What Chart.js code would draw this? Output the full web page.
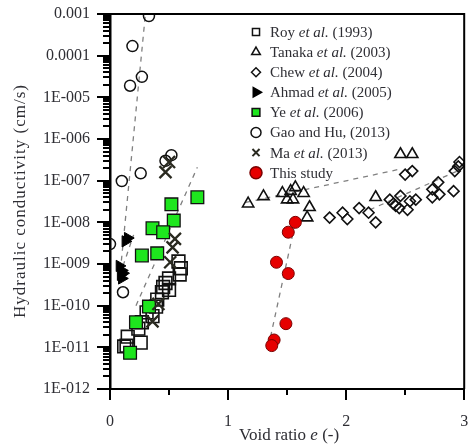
<!DOCTYPE html>
<html lang="en">
<head>
<meta charset="UTF-8" />
<title>Hydraulic conductivity vs void ratio</title>
<script src="https://cdn.jsdelivr.net/npm/chart.js"></script>
<style>
  html, body { margin: 0; padding: 0; background: #fff; }
  #wrap { width: 475px; height: 448px; }
</style>
</head>
<body>
<div id="wrap"><canvas id="kChart" width="475" height="448"></canvas></div>
<script>
// void ratio e (-) and hydraulic conductivity k (cm/s)
const royE = [0.58, 0.60, 0.59, 0.50, 0.47, 0.45, 0.44, 0.50, 0.40, 0.39, 0.36, 0.31, 0.27, 0.24, 0.15, 0.12, 0.26, 0.14];
const royK = [1.15e-9, 7.9e-10, 5.6e-10, 4.5e-10, 3.5e-10, 2.8e-10, 2.1e-10, 2.4e-10, 1.4e-10, 9.5e-11, 5.6e-11, 6.9e-11, 4.0e-11, 2.8e-11, 1.8e-11, 1.05e-11, 1.3e-11, 1.1e-11];

const tanakaE = [1.17, 1.30, 1.46, 1.50, 1.53, 1.55, 1.57, 1.64, 1.69, 1.67, 2.25, 2.46, 2.56];
const tanakaK = [2.8e-8, 4.2e-8, 5.0e-8, 3.5e-8, 5.6e-8, 3.5e-8, 6.9e-8, 5.0e-8, 2.3e-8, 1.3e-8, 4.0e-8, 4.3e-7, 4.3e-7];

const chewE = [1.86, 1.97, 2.01, 2.11, 2.19, 2.25, 2.37, 2.40, 2.42, 2.45, 2.46, 2.52, 2.54, 2.59, 2.50, 2.56, 2.73, 2.78, 2.73, 2.79, 2.91, 2.92, 2.96, 2.95];
const chewK = [1.3e-8, 1.7e-8, 1.2e-8, 2.2e-8, 1.7e-8, 1.0e-8, 3.5e-8, 2.8e-8, 2.5e-8, 2.2e-8, 4.3e-8, 2.0e-8, 3.2e-8, 3.5e-8, 1.4e-7, 1.7e-7, 6.2e-8, 9.1e-8, 4.0e-8, 4.7e-8, 5.6e-8, 1.7e-7, 2.8e-7, 2.2e-7];

const ahmadE = [0.15, 0.13, 0.08, 0.10, 0.09, 0.10, 0.11];
const ahmadK = [4.2e-9, 3.5e-9, 9e-10, 7e-10, 5.5e-10, 4.5e-10, 6e-10];

const yeE = [0.74, 0.52, 0.54, 0.36, 0.45, 0.27, 0.40, 0.33, 0.22, 0.17];
const yeK = [4.0e-8, 2.7e-8, 1.1e-8, 7.2e-9, 5.8e-9, 1.6e-9, 1.8e-9, 9.5e-11, 4.0e-11, 7.4e-12];

const gaoE = [0.33, 0.19, 0.27, 0.17, 0.26, 0.10, 0.47, 0.52, 0.0, 0.11];
const gaoK = [8.9e-4, 1.7e-4, 3.1e-5, 1.9e-5, 1.5e-7, 9.8e-8, 3.0e-7, 4.1e-7, 3.0e-9, 2.1e-10];

const maE = [0.47, 0.50, 0.55, 0.53, 0.51, 0.41, 0.36];
const maK = [1.6e-7, 2.8e-7, 4.0e-9, 2.5e-9, 1.1e-9, 1.1e-10, 4.2e-11];

const studyE = [1.57, 1.51, 1.41, 1.51, 1.49, 1.39, 1.37];
const studyK = [1.0e-8, 5.8e-9, 1.1e-9, 5.9e-10, 3.7e-11, 1.5e-11, 1.1e-11];

// dashed trend lines (end points)
const gaoFitE = [0.08, 0.30];     const gaoFitK = [4e-10, 1e-3];
const ahmadFitE = [0.11, 0.20];   const ahmadFitK = [9e-10, 5e-9];
const yeFitE = [0.22, 0.74];      const yeFitK = [1e-10, 2.1e-7];
const tanakaFitE = [1.15, 2.46];  const tanakaFitK = [3.0e-8, 1.9e-7];
const chewFitE = [2.2, 2.98];     const chewFitK = [2.0e-8, 1.9e-7];
const studyFitE = [1.36, 1.57];   const studyFitK = [1.8e-11, 1.0e-8];

// axes
const yTickValues = [1e-12, 1e-11, 1e-10, 1e-9, 1e-8, 1e-7, 1e-6, 1e-5, 1e-4, 1e-3];
const yTickLabels = ['1E-012', '1E-011', '1E-010', '1E-009', '1E-008', '1E-007', '1E-006', '1E-005', '0.0001', '0.001'];
const xTickValues = [0, 1, 2, 3];
const xMinorValues = [0.5, 1.5, 2.5];

const SERIF = '"Liberation Serif", "DejaVu Serif", serif';
const TXT = '#2e2e34';

const pts = (es, ks) => es.map((e, i) => ({ x: e, y: ks[i] }));

function fitLine(es, ks) {
  return {
    data: pts(es, ks), showLine: true, pointRadius: 0, pointHoverRadius: 0,
    borderColor: '#808080', borderWidth: 1.3, borderDash: [5, 5], order: 10
  };
}

const series = [
  { key: 'study', data: pts(studyE, studyK), pointStyle: 'circle', pointRadius: 6, backgroundColor: '#e60000', borderColor: '#7a0000', borderWidth: 1, order: 0 },
  { key: 'roy', data: pts(royE, royK), pointStyle: 'rect', pointRadius: 9, backgroundColor: 'rgba(255,255,255,0)', borderColor: '#111', borderWidth: 1.6, order: 3 },
  { key: 'tanaka', data: pts(tanakaE, tanakaK), pointStyle: 'triangle', pointRadius: 6.5, backgroundColor: 'rgba(255,255,255,0)', borderColor: '#111', borderWidth: 1.6, order: 3 },
  { key: 'chew', data: pts(chewE, chewK), pointStyle: 'rectRot', pointRadius: 5.5, backgroundColor: 'rgba(255,255,255,0)', borderColor: '#111', borderWidth: 1.6, order: 3 },
  { key: 'ahmad', data: pts(ahmadE, ahmadK), pointStyle: 'triangle', rotation: 90, pointRotation: 90, pointRadius: 6.5, backgroundColor: '#000', borderColor: '#000', borderWidth: 1, order: 2 },
  { key: 'ye', data: pts(yeE, yeK), pointStyle: 'rect', pointRadius: 9, backgroundColor: '#1ee61e', borderColor: '#111', borderWidth: 1.3, order: 2 },
  { key: 'gao', data: pts(gaoE, gaoK), pointStyle: 'circle', pointRadius: 5.5, backgroundColor: 'rgba(255,255,255,0)', borderColor: '#111', borderWidth: 1.5, order: 3 },
  { key: 'ma', data: pts(maE, maK), pointStyle: 'crossRot', pointRadius: 8.5, backgroundColor: '#333', borderColor: '#2a2a20', borderWidth: 2.3, order: 1 }
];

const legendRows = [
  { key: 'roy', r: 5, parts: [['Roy ', 0], ['et al.', 1], [' (1993)', 0]] },
  { key: 'tanaka', r: 5, parts: [['Tanaka ', 0], ['et al.', 1], [' (2003)', 0]] },
  { key: 'chew', r: 4.5, parts: [['Chew ', 0], ['et al.', 1], [' (2004)', 0]] },
  { key: 'ahmad', r: 5.5, parts: [['Ahmad ', 0], ['et al.', 1], [' (2005)', 0]] },
  { key: 'ye', r: 5.5, parts: [['Ye ', 0], ['et al.', 1], [' (2006)', 0]] },
  { key: 'gao', r: 5, parts: [['Gao and Hu, (2013)', 0]] },
  { key: 'ma', r: 5, parts: [['Ma ', 0], ['et al.', 1], [' (2013)', 0]] },
  { key: 'study', r: 6, parts: [['This study', 0]] }
];

const extras = {
  id: 'extras',
  afterDraw(chart) {
    const ctx = chart.ctx;
    const a = chart.chartArea;
    const xs = chart.scales.x, ys = chart.scales.y;
    ctx.save();

    // frame top and right
    ctx.strokeStyle = '#000';
    ctx.lineWidth = 2;
    ctx.beginPath();
    ctx.moveTo(a.left, a.top); ctx.lineTo(a.right, a.top); ctx.lineTo(a.right, a.bottom);
    ctx.stroke();

    // minor ticks
    ctx.lineWidth = 2;
    ctx.beginPath();
    for (let d = 0; d < yTickValues.length - 1; d++) {
      for (let m = 2; m <= 9; m++) {
        const py = Math.round(ys.getPixelForValue(yTickValues[d] * m));
        ctx.moveTo(a.left - 7, py); ctx.lineTo(a.left, py);
      }
    }
    xMinorValues.forEach(v => {
      const px = Math.round(xs.getPixelForValue(v));
      ctx.moveTo(px, a.bottom); ctx.lineTo(px, a.bottom + 6);
    });
    ctx.stroke();

    // legend
    ctx.textBaseline = 'middle';
    ctx.textAlign = 'left';
    legendRows.forEach((row, i) => {
      const ds = series.find(s => s.key === row.key);
      const y = 32 + i * 20.1;
      ctx.fillStyle = ds.backgroundColor;
      ctx.strokeStyle = ds.borderColor;
      ctx.lineWidth = ds.key === 'ma' ? 2 : 1.5;
      Chart.helpers.drawPoint(ctx, { pointStyle: ds.pointStyle, radius: row.r, rotation: ds.rotation || 0, borderWidth: ctx.lineWidth }, 256, y);
      let x = 270;
      ctx.fillStyle = TXT;
      row.parts.forEach(([t, it]) => {
        ctx.font = (it ? 'italic ' : '') + '15px ' + SERIF;
        ctx.fillText(t, x, y + 1);
        x += ctx.measureText(t).width;
      });
    });

    // x title with italic e
    const xParts = [['Void ratio ', 0], ['e', 1], [' (-)', 0]];
    let w = 0;
    xParts.forEach(([t, it]) => { ctx.font = (it ? 'italic ' : '') + '17px ' + SERIF; w += ctx.measureText(t).width; });
    let tx = 289 - w / 2;
    ctx.fillStyle = TXT;
    xParts.forEach(([t, it]) => {
      ctx.font = (it ? 'italic ' : '') + '17px ' + SERIF;
      ctx.fillText(t, tx, 436);
      tx += ctx.measureText(t).width;
    });

    // y title
    ctx.translate(21, 201);
    ctx.rotate(-Math.PI / 2);
    ctx.textAlign = 'center';
    ctx.font = '17px ' + SERIF;
    ctx.letterSpacing = '1px';
    ctx.fillText('Hydraulic conductivity (cm/s)', 0, 0);
    ctx.restore();
  }
};

const datasets = series.map(s => ({ ...s })).concat([
  fitLine(gaoFitE, gaoFitK),
  fitLine(ahmadFitE, ahmadFitK),
  fitLine(yeFitE, yeFitK),
  fitLine(tanakaFitE, tanakaFitK),
  fitLine(chewFitE, chewFitK),
  fitLine(studyFitE, studyFitK)
]);

new Chart(document.getElementById('kChart'), {
  type: 'scatter',
  data: { datasets },
  plugins: [extras],
  options: {
    responsive: false,
    animation: false,
    layout: { padding: { top: 14, right: 2, left: 0, bottom: 0 } },
    plugins: { legend: { display: false }, tooltip: { enabled: false } },
    scales: {
      x: {
        type: 'linear', min: 0, max: 3,
        afterBuildTicks: s => { s.ticks = xTickValues.map(v => ({ value: v })); },
        afterFit: s => { s.height = 59; s.paddingLeft = 0; s.paddingRight = 0; },
        grid: { display: true, drawOnChartArea: false, drawTicks: true, tickLength: 11, color: '#000', lineWidth: 2 },
        border: { display: true, color: '#000', width: 2 },
        ticks: { color: TXT, font: { family: SERIF, size: 16 }, padding: 12, maxRotation: 0, callback: v => String(v) }
      },
      y: {
        type: 'logarithmic', min: 1e-12, max: 1e-3,
        afterBuildTicks: s => { s.ticks = yTickValues.map(v => ({ value: v, major: true })); },
        afterFit: s => { s.width = 110; s.paddingTop = 0; s.paddingBottom = 0; },
        grid: { display: true, drawOnChartArea: false, drawTicks: true, tickLength: 13, color: '#000', lineWidth: 2 },
        border: { display: true, color: '#000', width: 2.5 },
        ticks: {
          color: TXT, font: { family: SERIF, size: 16 }, padding: 7, autoSkip: false,
          callback: (v, i) => yTickLabels[i]
        }
      }
    }
  }
});
</script>
</body>
</html>
